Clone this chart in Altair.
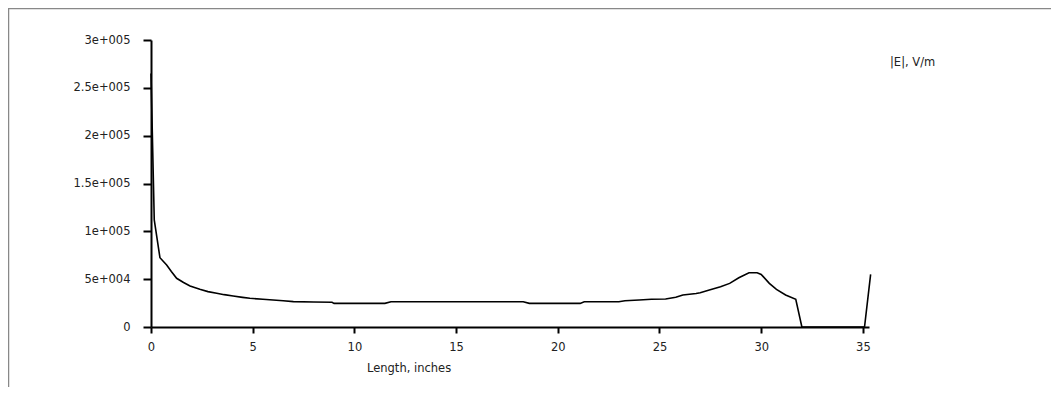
import altair as alt
import pandas as pd

# Field magnitude along the line
length_in = [0.0, 0.16, 0.44, 0.77, 1.0, 1.26, 1.6, 1.92, 2.4, 2.8, 3.23, 3.6, 4.04, 4.5,
             4.86, 5.5, 6.0, 6.5, 7.0, 8.0, 8.9, 9.0, 11.5, 11.8, 18.3, 18.6, 21.1, 21.3,
             23.0, 23.3, 24.0, 24.6, 25.3, 25.8, 26.15, 26.8, 27.0, 27.45, 28.0, 28.45,
             28.9, 29.4, 29.8, 30.0, 30.4, 30.75, 31.2, 31.7, 32.0, 35.08, 35.38]
e_field = [265000, 112000, 72400, 64800, 58000, 50900, 46500, 42800, 39400, 37000, 35200,
           33800, 32400, 31000, 30000, 29000, 28200, 27500, 26500, 26200, 25800, 24700,
           24700, 26400, 26400, 24700, 24700, 26400, 26400, 27500, 28200, 29000, 29200,
           31000, 33400, 35000, 35800, 38600, 42000, 45600, 51500, 56700, 56700, 55000,
           45600, 39400, 33400, 29000, 0, 0, 55000]

x_ticks = [0, 5, 10, 15, 20, 25, 30, 35]
y_ticks = [0, 50000, 100000, 150000, 200000, 250000, 300000]
y_tick_labels = ["0", "5e+004", "1e+005", "1.5e+005", "2e+005", "2.5e+005", "3e+005"]
x_title = "Length, inches"
series_label = "|E|, V/m"

df = pd.DataFrame({"x": length_in, "y": e_field})

label_expr = "''"
for v, lab in zip(reversed(y_ticks), reversed(y_tick_labels)):
    label_expr = f"datum.value == {v} ? '{lab}' : ({label_expr})"

W, H = 718, 287
PL, PT, PR, PB = 143, 32, 182, 60
FONT = "DejaVu Sans"

x_scale = alt.Scale(domain=[0, 35.3], nice=False)
y_scale = alt.Scale(domain=[0, 300000], nice=False)

line = alt.Chart(df).mark_line(color="black", strokeWidth=1.6, clip=False).encode(
    x=alt.X("x:Q", scale=x_scale,
            axis=alt.Axis(values=x_ticks, title=None, tickSize=6, labelPadding=8,
                          labelFlush=False, labelOverlap=False, grid=False)),
    y=alt.Y("y:Q", scale=y_scale,
            axis=alt.Axis(values=y_ticks, title=None, tickSize=8, labelPadding=13,
                          labelExpr=label_expr, labelFlush=False, labelOverlap=False,
                          grid=False)),
)

one = pd.DataFrame({"k": [0]})

border = alt.Chart(one).mark_rect(fill=None, stroke="#888888", strokeWidth=1.5).encode(
    x=alt.value(-PL + 0.5), x2=alt.value(W + PR + 10),
    y=alt.value(-PT + 0.5), y2=alt.value(H + PB + 10),
)

title_txt = alt.Chart(pd.DataFrame({"t": [x_title]})).mark_text(
    align="left", baseline="middle", font=FONT, fontSize=11.5, color="#222222"
).encode(x=alt.value(216), y=alt.value(329), text="t:N")

legend_txt = alt.Chart(pd.DataFrame({"t": [series_label]})).mark_text(
    align="left", baseline="middle", font=FONT, fontSize=11.5, color="#222222"
).encode(x=alt.value(739), y=alt.value(23), text="t:N")

chart = alt.layer(border, line, title_txt, legend_txt).properties(
    width=W, height=H,
    autosize=alt.AutoSizeParams(type="none"),
    padding={"left": PL, "top": PT, "right": PR, "bottom": PB},
    background="white",
).configure_view(stroke=None).configure_axis(
    domainColor="black", domainWidth=2, tickColor="black", tickWidth=2,
    labelFont=FONT, labelFontSize=11.5, labelColor="#222222",
)

chart.save("out.html", embed_options={"renderer": "svg", "actions": False})
